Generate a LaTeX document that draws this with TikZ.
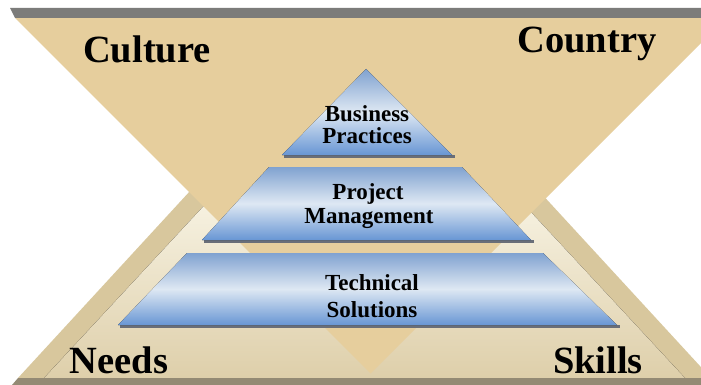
\documentclass[tikz,border=0pt]{standalone}
\usepackage{fontspec}
\setmainfont{Liberation Serif}
\definecolor{tanA}{RGB}{230,206,157}
\definecolor{khaki}{RGB}{216,199,157}
\definecolor{creamA}{RGB}{236,226,196}
\definecolor{creamB}{RGB}{246,241,224}
\definecolor{creamC}{RGB}{222,207,170}
\definecolor{barGray}{RGB}{124,124,122}
\definecolor{barBrown}{RGB}{148,138,116}
\definecolor{blueTop}{RGB}{128,162,208}
\definecolor{blueMid}{RGB}{222,232,243}
\definecolor{blueBot}{RGB}{104,150,212}
\definecolor{shadowGray}{RGB}{105,110,120}
\begin{document}
\begin{tikzpicture}[x=1pt,y=-1pt,
  biglabel/.style={font=\fontsize{38.5}{40}\selectfont\bfseries, inner sep=0pt, anchor=base},
  layertext/.style={font=\fontsize{23}{25}\selectfont\bfseries, inner sep=0pt, anchor=base},
  layerfill/.style={top color=blueTop, bottom color=blueBot, middle color=blueMid},
  shadowline/.style={draw=shadowGray, line width=3pt}]
\useasboundingbox (0,0) rectangle (701,385);
\fill[white] (0,0) rectangle (701,385);
\begin{scope}
\clip (0,18) rectangle (701,385);
% upright triangle (back)
\fill[khaki] (18,378) -- (364.5,1.4) -- (711,378) -- cycle;
\fill[top color=creamA, bottom color=creamC, middle color=creamB] (44,378) -- (364.5,33) -- (685,378) -- cycle;
% inverted triangle (front)
\fill[tanA] (15,18) -- (726,18) -- (370.5,373.5) -- cycle;
\end{scope}
\begin{scope}
\clip (0,0) rectangle (701,385);
% top and bottom bars
\fill[barGray] (10,8) -- (701,8) -- (701,18) -- (15,18) -- cycle;
\fill[barBrown] (18,378) -- (701,378) -- (701,385) -- (12,385) -- cycle;
\end{scope}
% layers
\coordinate (bpL) at (282,155); \coordinate (bpR) at (452,155);
\draw[shadowline] ([xshift=2pt,yshift=-1.5pt]bpL) -- ([xshift=3pt,yshift=-1.5pt]bpR);
\fill[layerfill] (bpL) -- (366,69) -- (bpR) -- cycle;
\coordinate (pmL) at (202,240); \coordinate (pmR) at (531,240);
\draw[shadowline] ([xshift=2pt,yshift=-1.5pt]pmL) -- ([xshift=3pt,yshift=-1.5pt]pmR);
\fill[layerfill] (pmL) -- (269,167) -- (462,167) -- (pmR) -- cycle;
\coordinate (tsL) at (118,325); \coordinate (tsR) at (617,325);
\draw[shadowline] ([xshift=2pt,yshift=-1.5pt]tsL) -- ([xshift=3pt,yshift=-1.5pt]tsR);
\fill[layerfill] (tsL) -- (187,253) -- (543,253) -- (tsR) -- cycle;
% texts
\node[layertext] (bp1) at (367,122) {Business};
\node[layertext] (bp2) at (367,143) {Practices};
\node[layertext] (pm1) at (368,199) {Project};
\node[layertext] (pm2) at (369,223) {Management};
\node[layertext] (ts1) at (372,290) {Technical};
\node[layertext] (ts2) at (372,317) {Solutions};
\node[biglabel] (culture) at (147,63) {Culture};
\node[biglabel] (country) at (587,53) {Country};
\node[biglabel] (needs) at (119,373) {Needs};
\node[biglabel] (skills) at (598,373) {Skills};
\end{tikzpicture}
\end{document}
